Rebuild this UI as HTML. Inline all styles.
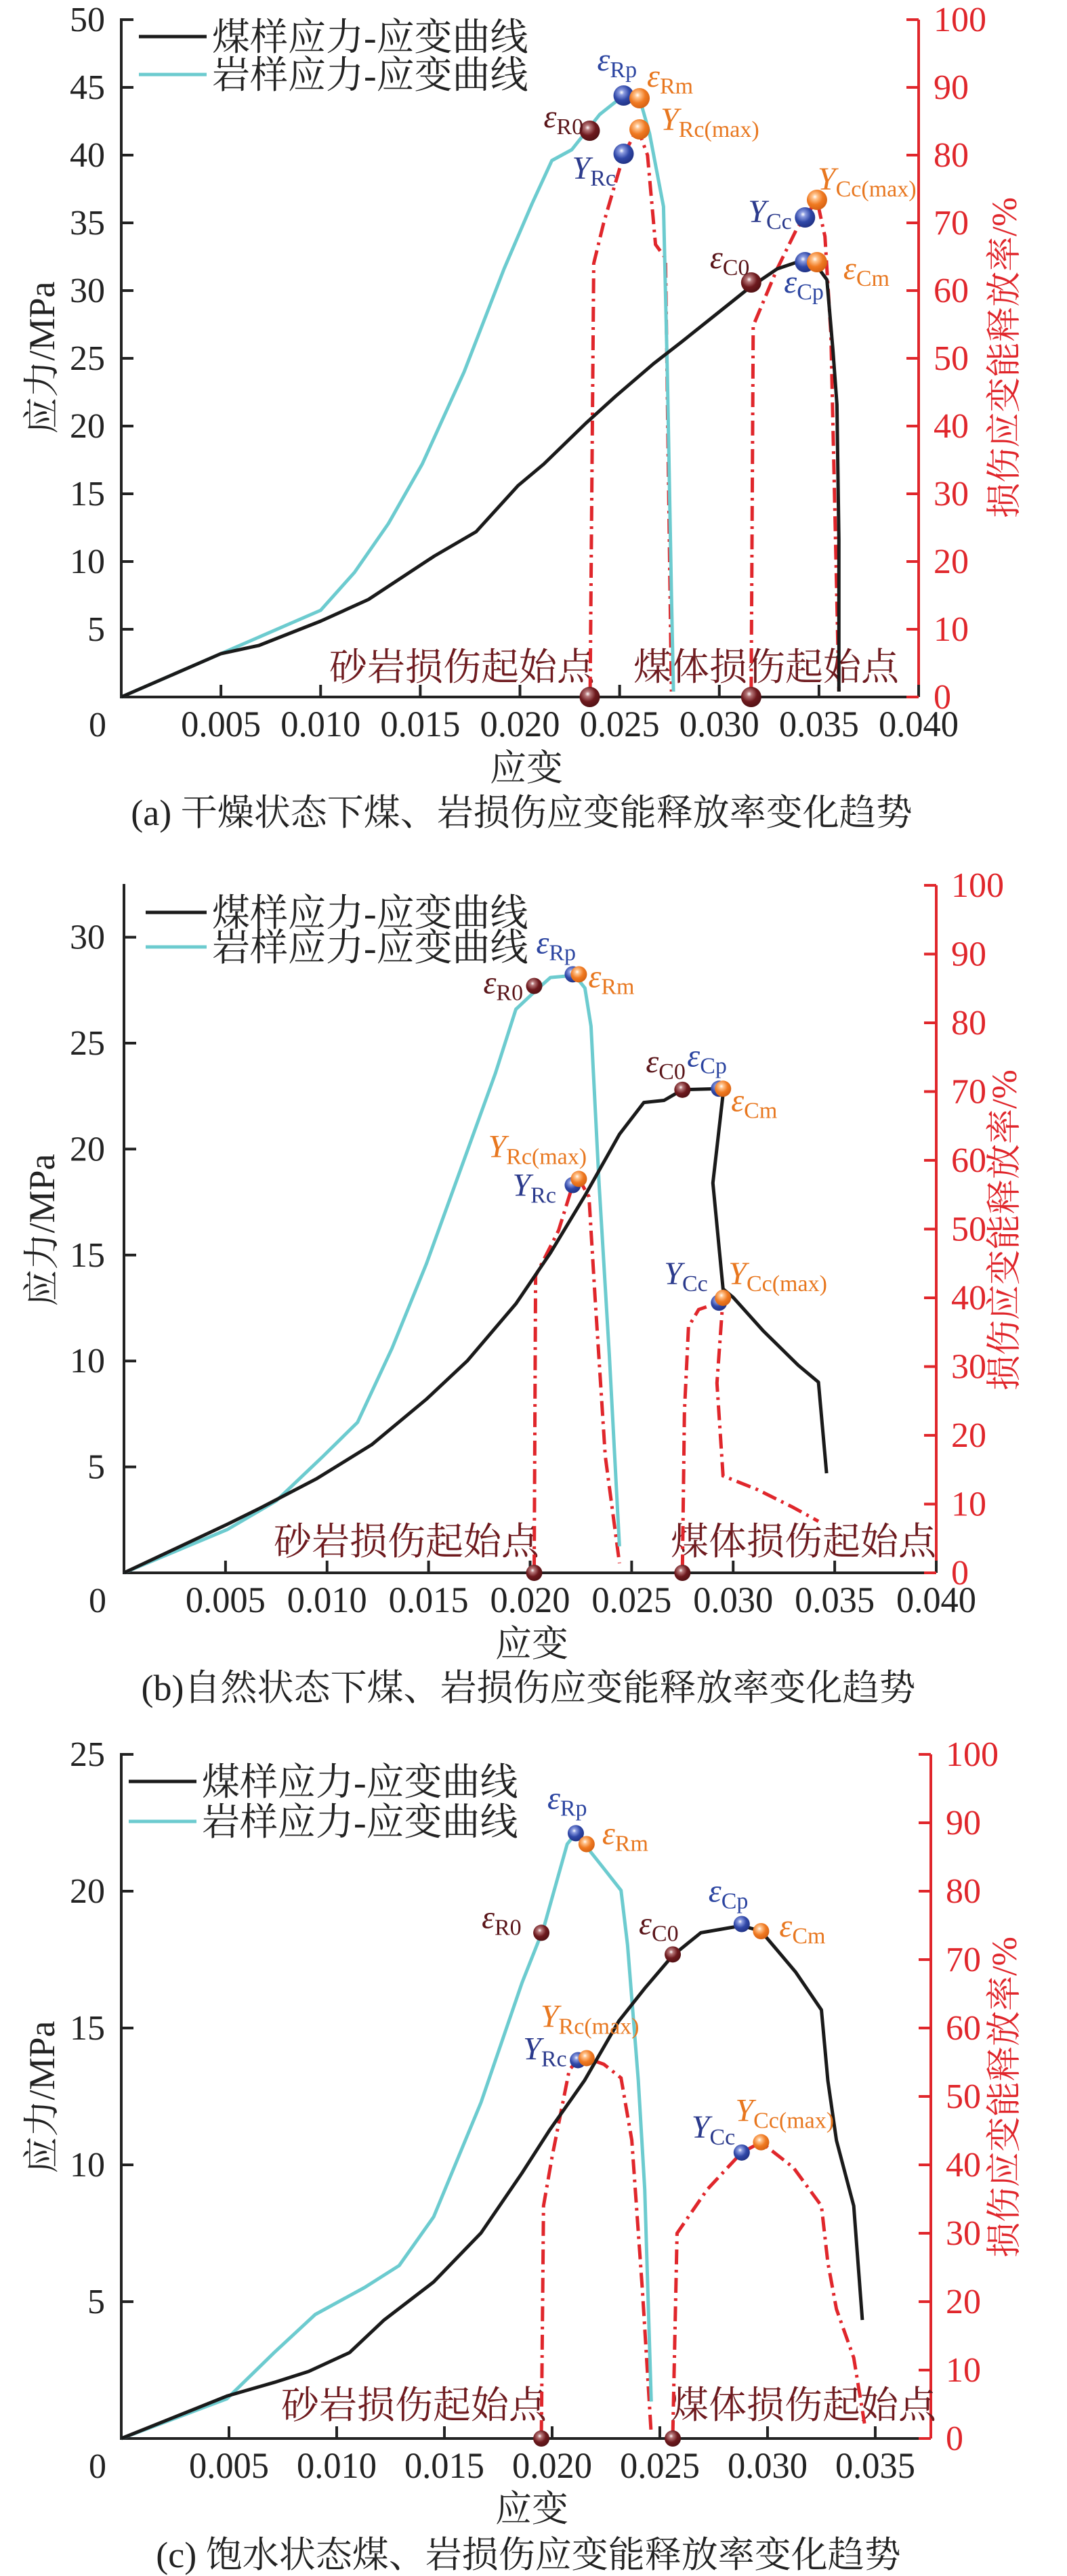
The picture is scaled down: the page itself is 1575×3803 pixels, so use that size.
<!DOCTYPE html>
<html><head><meta charset="utf-8"><style>
html,body{margin:0;padding:0;background:#fff}
svg{display:block}
text{font-family:"Liberation Serif","Noto Serif CJK SC","Noto Sans CJK SC",serif}
</style></head><body>
<svg id="fig" xmlns="http://www.w3.org/2000/svg" width="1575" height="3803" viewBox="0 0 1575 3803" font-family="'Liberation Serif','Noto Serif CJK SC','Noto Sans CJK SC',serif">
<defs>
<radialGradient id="gBlue" cx="0.4" cy="0.35" r="0.7"><stop offset="0" stop-color="#ffffff"/><stop offset="0.18" stop-color="#8b9be0"/><stop offset="0.55" stop-color="#3048a8"/><stop offset="1" stop-color="#1e2f80"/></radialGradient>
<radialGradient id="gOrange" cx="0.4" cy="0.35" r="0.7"><stop offset="0" stop-color="#ffffff"/><stop offset="0.18" stop-color="#ffc48e"/><stop offset="0.55" stop-color="#f07a22"/><stop offset="1" stop-color="#d25e10"/></radialGradient>
<radialGradient id="gDark" cx="0.4" cy="0.35" r="0.7"><stop offset="0" stop-color="#ffffff"/><stop offset="0.18" stop-color="#b7787a"/><stop offset="0.55" stop-color="#6e1a1e"/><stop offset="1" stop-color="#4e1013"/></radialGradient>
</defs>
</svg>
<script>
// ---------- panel (a) data ----------
const aCoalX=[0,0.005,0.0069,0.010,0.0124,0.0157,0.0178,0.0199,0.0212,0.0233,0.0248,0.0267,0.0281,0.0298,0.0315,0.0329,0.0339,0.0348,0.0354,0.0357,0.0359,0.0360,0.0360];
const aCoalY=[0,3.2,3.8,5.6,7.2,10.4,12.2,15.6,17.2,20.2,22.2,24.6,26.2,28.2,30.2,31.6,32.1,32.0,30.8,25.6,21.6,11.6,0.4];
const aRockX=[0,0.005,0.010,0.0117,0.0134,0.0151,0.0172,0.0192,0.0206,0.0216,0.0226,0.0240,0.0252,0.0260,0.0265,0.0272,0.0274,0.0276,0.0277];
const aRockY=[0,3.2,6.4,9.2,12.8,17.2,24,31.6,36.4,39.6,40.4,43,44.4,44.2,41.6,36.2,23.6,7.6,0.4];
const aRockDX=[0.02352,0.0237,0.0242,0.0252,0.0259,0.0264,0.0268,0.0273,0.0276];
const aRockDY=[0.8,64,70,80,84,80,66.8,64.8,0.8];
const aCoalDX=[0.0316,0.0317,0.0329,0.0339,0.0343,0.0349,0.0353,0.0356,0.0360];
const aCoalDY=[0.8,54.8,63.2,69.2,70.8,73.4,68,53.6,0.8];
const aMarkX=[0.0252,0.0260,0.0235,0.0252,0.0260,0.0316,0.0343,0.0349,0.0343,0.0349,0.0235,0.0316];
const aMarkY=[44.4,44.2,41.8,80.2,83.8,30.6,32.1,32.1,70.8,73.4,0,0];
// ---------- panel (b) data ----------
const bCoalX=[0,0.0051,0.0068,0.0095,0.0122,0.0149,0.0169,0.0193,0.021,0.0227,0.0244,0.0256,0.0266,0.0275,0.0293,0.0295,0.0290,0.0295,0.0300,0.0315,0.0332,0.0342,0.0346];
const bCoalY=[0,2.3,3.1,4.45,6.05,8.2,10.0,12.7,15.1,17.8,20.7,22.2,22.3,22.8,22.85,22.6,18.4,13.4,13.0,11.4,9.8,9.0,4.7];
const bRockX=[0,0.0051,0.0075,0.0098,0.0115,0.0132,0.0149,0.0169,0.0183,0.0193,0.0203,0.0210,0.0222,0.0227,0.0230,0.0234,0.0239,0.0244];
const bRockY=[0,2.05,3.4,5.5,7.1,10.6,14.6,19.9,23.6,26.6,27.5,28.1,28.2,27.6,25.8,18.3,10.3,1.25];
const bRockDX=[0.0202,0.02027,0.0214,0.0221,0.0224,0.0229,0.0232,0.0237,0.0244];
const bRockDY=[0.5,43.2,49.8,56.4,57.3,54.7,40,17,1.4];
const bCoalDX=[0.0275,0.0276,0.0278,0.0283,0.0293,0.0295,0.0292,0.0295,0.0312,0.0329,0.0342];
const bCoalDY=[0.5,23.5,35.8,38.3,39.3,40,27.6,14.1,12.1,9.6,7.5];
const bMarkX=[0.0221,0.0224,0.0202,0.0221,0.0224,0.0275,0.0293,0.0295,0.0293,0.0295,0.0202,0.0275];
const bMarkY=[28.25,28.25,27.7,56.4,57.3,22.8,22.85,22.85,39.3,40,0,0];
// ---------- panel (c) data ----------
const cCoalX=[0,0.0049,0.0071,0.0087,0.0106,0.0122,0.0145,0.0167,0.0186,0.0199,0.0215,0.0231,0.0243,0.0256,0.0269,0.0288,0.0297,0.0313,0.0325,0.0328,0.0332,0.0340,0.0344];
const cCoalY=[0,1.55,2.05,2.45,3.14,4.33,5.72,7.51,9.7,11.29,13.08,15.26,16.45,17.65,18.48,18.74,18.54,17.05,15.66,13.08,10.89,8.5,4.33];
const cRockX=[0,0.0049,0.0071,0.0090,0.0113,0.0129,0.0145,0.0167,0.0186,0.0196,0.0207,0.0211,0.0215,0.0224,0.0232,0.0235,0.0240,0.0243,0.0246];
const cRockY=[0,1.45,3.14,4.53,5.52,6.32,8.1,12.28,16.65,18.64,21.72,22.12,21.72,20.83,20.03,18.04,13.08,9.1,1.35];
const cRockDX=[0.0195,0.0196,0.0200,0.0208,0.0212,0.0216,0.0224,0.0232,0.0237,0.0242,0.0246];
const cRockDY=[0.5,34,41.2,53.9,55.3,55.6,54.7,52.7,43.6,21.3,0.6];
const cCoalDX=[0.0256,0.0258,0.0272,0.0288,0.0297,0.0312,0.0325,0.0328,0.0332,0.0340,0.0345];
const cCoalDY=[0.5,30,36.4,41.8,43.3,39.6,34,25.7,18.9,11.8,2.2];
const cMarkX=[0.0211,0.0216,0.0195,0.0212,0.0216,0.0256,0.0288,0.0297,0.0288,0.0297,0.0195,0.0256];
const cMarkY=[22.12,21.72,18.48,55.3,55.6,17.69,18.8,18.54,41.8,43.3,0,0];
// ticks
const aYTicks=[5,10,15,20,25,30,35,40,45,50];
const bYTicks=[5,10,15,20,25,30];
const cYTicks=[5,10,15,20,25];
const rTicks=[0,10,20,30,40,50,60,70,80,90,100];
const abXTicks=["0.005","0.010","0.015","0.020","0.025","0.030","0.035","0.040"];
const cXTicks=["0.005","0.010","0.015","0.020","0.025","0.030","0.035"];

const NS="http://www.w3.org/2000/svg";
const svg=document.getElementById('fig');
function mk(tag,attrs,parent){const e=document.createElementNS(NS,tag);for(const k in attrs)e.setAttribute(k,attrs[k]);(parent||svg).appendChild(e);return e;}

const markMeta=[
 ['L','gBlue','ε','Rp','#2b44a0'],['L','gOrange','ε','Rm','#e8771f'],['L','gDark','ε','R0','#5a1519'],
 ['R','gBlue','Y','Rc','#2b3a8c'],['R','gOrange','Y','Rc(max)','#e8771f'],
 ['L','gDark','ε','C0','#5a1519'],['L','gBlue','ε','Cp','#2b44a0'],['L','gOrange','ε','Cm','#e8771f'],
 ['R','gBlue','Y','Cc','#2b3a8c'],['R','gOrange','Y','Cc(max)','#e8771f'],
 ['R','gDark','',''],['R','gDark','','']
];

const panels=[
 {id:'a',x0:179,x1:1356,xmax:0.040,y0:1029,yTop:29,yMax:50,rTop:29,right:1356,yT:aYTicks,xT:abXTicks,
  coalX:aCoalX,coalY:aCoalY,rockX:aRockX,rockY:aRockY,rdx:aRockDX,rdy:aRockDY,cdx:aCoalDX,cdy:aCoalDY,mx:aMarkX,my:aMarkY,r:15,
  off:[[-39,-37],[11,-17],[-68,-5],[-76,37],[31,1],[-61,-21],[-31,45],[39,25],[-84,7],[1,-15]],
  leg:[205,305,54,110],s1:[486,1004],s2:[935,1004],xt:1087,xtitle:[777,1152],cap:[770,1218],ytc:528,
  caption:'(a) 干燥状态下煤、岩损伤应变能释放率变化趋势'},
 {id:'b',x0:183,x1:1382,xmax:0.040,y0:2322,yTop:1307,yMax:32.45,rTop:1307,right:1382,yT:bYTicks,xT:abXTicks,
  coalX:bCoalX,coalY:bCoalY,rockX:bRockX,rockY:bRockY,rdx:bRockDX,rdy:bRockDY,cdx:bCoalDX,cdy:bCoalDY,mx:bMarkX,my:bMarkY,r:12,
  off:[[-54,-31],[14,19],[-75,11],[-89,16],[-134,-32],[-54,-26],[-47,-33],[12,33],[-81,-27],[8,-20]],
  leg:[215,305,1347,1398],s1:[404,2295],s2:[990,2295],xt:2380,xtitle:[785,2445],cap:[780,2510],ytc:1816,
  caption:'(b)自然状态下煤、岩损伤应变能释放率变化趋势'},
 {id:'c',x0:179,x1:1374,xmax:0.03758,y0:3600,yTop:2590,yMax:25,rTop:2590,right:1374,yT:cYTicks,xT:cXTicks,
  coalX:cCoalX,coalY:cCoalY,rockX:cRockX,rockY:cRockY,rdx:cRockDX,rdy:cRockDY,cdx:cCoalDX,cdy:cCoalDY,mx:cMarkX,my:cMarkY,r:12,
  off:[[-42,-36],[23,0],[-88,-7],[-81,-1],[-68,-46],[-50,-30],[-49,-33],[27,8],[-74,-22],[-38,-31]],
  leg:[190,290,2630,2689],s1:[415,3570],s2:[990,3570],xt:3658,xtitle:[785,3722],cap:[780,3790],ytc:3096,
  caption:'(c) 饱水状态煤、岩损伤应变能释放率变化趋势'}
];

panels.forEach(p=>{
 const g=mk('g',{});
 
 
 const sx=v=>p.x0+(v/p.xmax)*(p.x1-p.x0);
 const sy=v=>p.y0-(v/p.yMax)*(p.y0-p.yTop);
 const sr=v=>p.y0-(v/100)*(p.y0-p.rTop);
 const ax=mk('path',{d:`M${p.x0},${p.yTop-2}V${p.y0}H${p.right}`,fill:'none',stroke:'#222','stroke-width':4},g);
 
 
 const ra=mk('line',{x1:p.right,y1:p.rTop,x2:p.right,y2:p.y0,stroke:'#e0262b','stroke-width':4},g);
 
 
 p.yT.forEach(v=>{
  const y=sy(v);
  mk('line',{x1:p.x0,y1:y,x2:p.x0+18,y2:y,stroke:'#222','stroke-width':4},g);
  const t=mk('text',{x:155,y:y+17,'text-anchor':'end','font-size':52,fill:'#222'},g);t.textContent=v;
  
  
 });
 const z=mk('text',{x:144,y:p.xt,'text-anchor':'middle','font-size':52,fill:'#222'},g);z.textContent='0';
 
 
 p.xT.forEach(s=>{
  const x=sx(parseFloat(s));
  mk('line',{x1:x,y1:p.y0,x2:x,y2:p.y0-18,stroke:'#222','stroke-width':4},g);
  const t=mk('text',{x:x,y:p.xt,'text-anchor':'middle','font-size':54,fill:'#222',textLength:118,lengthAdjust:'spacingAndGlyphs'},g);t.textContent=s;
  
  
 });
 rTicks.forEach(v=>{
  const y=sr(v);
  mk('line',{x1:p.right,y1:y,x2:p.right-18,y2:y,stroke:'#e0262b','stroke-width':4},g);
  const t=mk('text',{x:p.right+22,y:y+17,'font-size':52,fill:'#e0262b'},g);t.textContent=v;
  
  
 });
 const yt=mk('text',{x:0,y:0,'font-size':54,fill:'#222','text-anchor':'middle',transform:`translate(80,${p.ytc}) rotate(-90)`},g);yt.textContent='应力/MPa';
 
 
 const rt=mk('text',{x:0,y:0,'font-size':52,fill:'#e0262b','text-anchor':'middle',transform:`translate(1500,${p.ytc}) rotate(-90)`},g);rt.textContent='损伤应变能释放率/%';
 
 
 const xt=mk('text',{x:p.xtitle[0],y:p.xtitle[1],'font-size':54,fill:'#222','text-anchor':'middle'},g);xt.textContent='应变';
 
 
 const cp=mk('text',{x:p.cap[0],y:p.cap[1],'font-size':54,fill:'#222','text-anchor':'middle'},g);cp.textContent=p.caption;
 
 
 const s1=mk('text',{x:p.s1[0],y:p.s1[1],'font-size':56,fill:'#6e1a1e'},g);s1.textContent='砂岩损伤起始点';
 
 
 const s2=mk('text',{x:p.s2[0],y:p.s2[1],'font-size':56,fill:'#6e1a1e'},g);s2.textContent='煤体损伤起始点';
 
 
 const line=(xs,ys,f)=>xs.map((x,i)=>(i?'L':'M')+sx(x).toFixed(1)+','+f(ys[i]).toFixed(1)).join('');
 const rd=mk('path',{d:line(p.rdx,p.rdy,sr),fill:'none',stroke:'#e0262b','stroke-width':5,'stroke-dasharray':'22 8 4 8'},g);
 
 
 const cd=mk('path',{d:line(p.cdx,p.cdy,sr),fill:'none',stroke:'#e0262b','stroke-width':5,'stroke-dasharray':'22 8 4 8'},g);
 
 
 const rk=mk('path',{d:line(p.rockX,p.rockY,sy),fill:'none',stroke:'#6ccbcf','stroke-width':5,'stroke-linejoin':'round'},g);
 
 
 const cl=mk('path',{d:line(p.coalX,p.coalY,sy),fill:'none',stroke:'#1a1a1a','stroke-width':5,'stroke-linejoin':'round'},g);
 
 
 const l1=mk('line',{x1:p.leg[0],y1:p.leg[2],x2:p.leg[1],y2:p.leg[2],stroke:'#1a1a1a','stroke-width':5},g);
 
 
 const l2=mk('line',{x1:p.leg[0],y1:p.leg[3],x2:p.leg[1],y2:p.leg[3],stroke:'#6ccbcf','stroke-width':5},g);
 
 
 const t1=mk('text',{x:p.leg[1]+8,y:p.leg[2]+20,'font-size':56,fill:'#222'},g);t1.textContent='煤样应力-应变曲线';
 
 
 const t2=mk('text',{x:p.leg[1]+8,y:p.leg[3]+20,'font-size':56,fill:'#222'},g);t2.textContent='岩样应力-应变曲线';
 
 
 p.mx.forEach((mxv,i)=>{
  const m=markMeta[i];
  const cx=sx(mxv), cy=(m[0]==='L'?sy(p.my[i]):sr(p.my[i]));
  const c=mk('circle',{cx:cx,cy:cy,r:p.r,fill:'url(#'+m[1]+')'},g);
  
  
  if(m[2]){
   const o=p.off[i];
   const t=mk('text',{x:cx+o[0],y:cy+o[1],fill:m[4]},g);
   const a=mk('tspan',{'font-size':48,'font-style':'italic'},t);a.textContent=m[2];
   const b=mk('tspan',{'font-size':34,dy:10},t);b.textContent=m[3];
   
   
  }
 });
});
</script>
</body></html>
